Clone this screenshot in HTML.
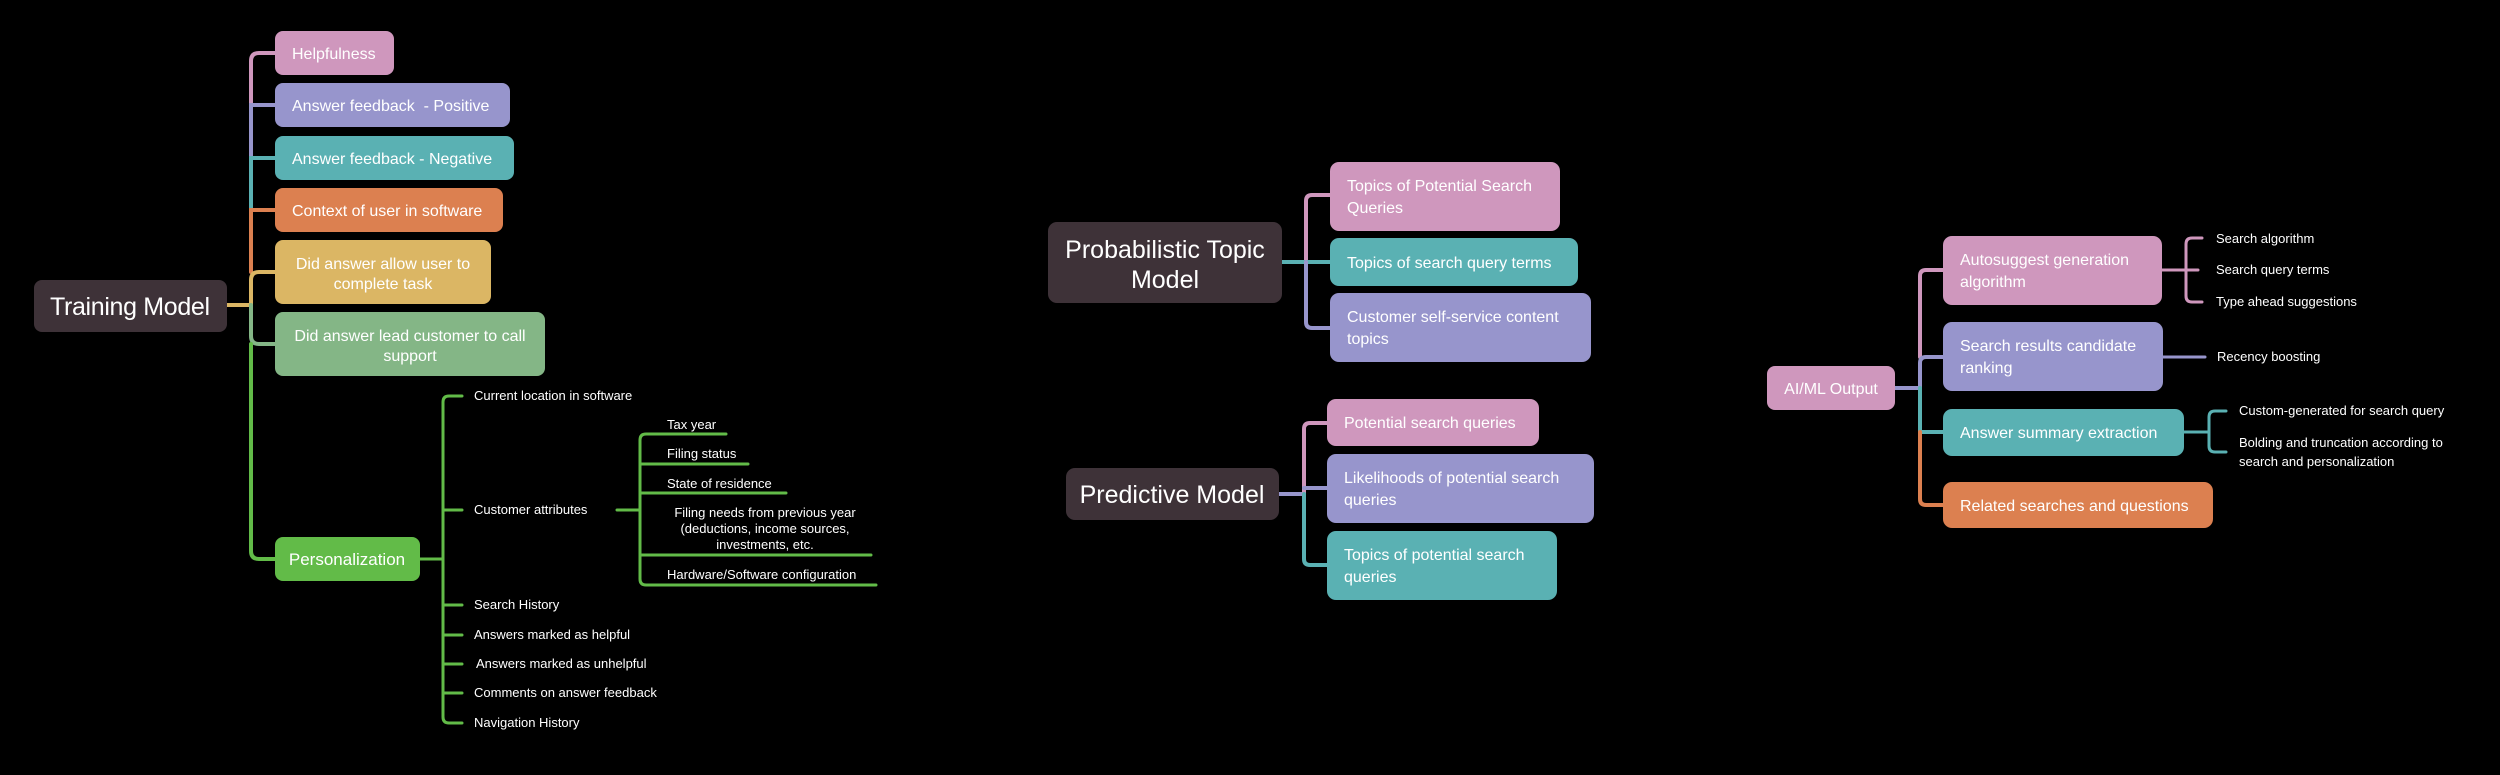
<!DOCTYPE html>
<html><head><meta charset="utf-8"><style>
html,body{margin:0;padding:0;background:#000;}
svg{display:block;}
text{font-family:"Liberation Sans",sans-serif;fill:#fff;}
</style></head><body>
<svg width="2500" height="775" viewBox="0 0 2500 775" xmlns="http://www.w3.org/2000/svg">
<rect width="2500" height="775" fill="#000"/>
<g fill="none" stroke-width="4" stroke-linecap="round">
<!-- Training model trunk -->
<path d="M227,305 H251" stroke="#dbb664"/>
<path d="M275,53 H259 Q251,53 251,61 V105" stroke="#cf97bd"/>
<path d="M275,105 H251 V158" stroke="#9795cc"/>
<path d="M275,158 H251 V210" stroke="#5ab1b3"/>
<path d="M275,210 H251 V272" stroke="#dc8050"/>
<path d="M275,272 H259 Q251,272 251,280 V305" stroke="#dbb664"/>
<path d="M275,344 H259 Q251,344 251,336 V305" stroke="#84b686"/>
<path d="M251,344 V551 Q251,559 259,559 H275" stroke="#62bb48"/>
</g>
<g fill="none" stroke="#62bb48" stroke-width="3" stroke-linecap="round">
<path d="M420,559 H443"/>
<path d="M462,396 H449 Q443,396 443,402 V717 Q443,723 449,723 H462"/>
<path d="M443,510 H462 M443,605 H462 M443,635 H462 M443,664 H462 M443,693 H462"/>
<path d="M617,510 H640"/>
<path d="M726,434 H646 Q640,434 640,440 V579 Q640,585 646,585 H876"/>
<path d="M640,464 H748 M640,493 H786 M640,555 H871"/>
</g>
<!-- Training Model boxes -->
<rect x="34" y="280" width="193" height="52" rx="8" fill="#3e3238"/>
<text x="130" y="315" font-size="25" text-anchor="middle" textLength="160">Training Model</text>
<rect x="275" y="31" width="119" height="44" rx="8" fill="#cf97bd"/>
<text x="292" y="59" font-size="16">Helpfulness</text>
<rect x="275" y="83" width="235" height="44" rx="8" fill="#9795cc"/>
<text x="292" y="111" font-size="16" xml:space="preserve">Answer feedback  - Positive</text>
<rect x="275" y="136" width="239" height="44" rx="8" fill="#5ab1b3"/>
<text x="292" y="164" font-size="16">Answer feedback - Negative</text>
<rect x="275" y="188" width="228" height="44" rx="8" fill="#dc8050"/>
<text x="292" y="216" font-size="16">Context of user in software</text>
<rect x="275" y="240" width="216" height="64" rx="8" fill="#dbb664"/>
<text x="383" y="269" font-size="16" text-anchor="middle">Did answer allow user to</text>
<text x="383" y="289" font-size="16" text-anchor="middle">complete task</text>
<rect x="275" y="312" width="270" height="64" rx="8" fill="#84b686"/>
<text x="410" y="341" font-size="16" text-anchor="middle">Did answer lead customer to call</text>
<text x="410" y="361" font-size="16" text-anchor="middle">support</text>
<rect x="275" y="537" width="145" height="44" rx="8" fill="#62bb48"/>
<text x="347" y="565" font-size="17" text-anchor="middle">Personalization</text>
<g font-size="13">
<text x="474" y="400">Current location in software</text>
<text x="474" y="514">Customer attributes</text>
<text x="474" y="609">Search History</text>
<text x="474" y="639">Answers marked as helpful</text>
<text x="476" y="668">Answers marked as unhelpful</text>
<text x="474" y="697">Comments on answer feedback</text>
<text x="474" y="727">Navigation History</text>
<text x="667" y="429">Tax year</text>
<text x="667" y="458">Filing status</text>
<text x="667" y="488">State of residence</text>
<text x="765" y="517" text-anchor="middle">Filing needs from previous year</text>
<text x="765" y="533" text-anchor="middle">(deductions, income sources,</text>
<text x="765" y="549" text-anchor="middle">investments, etc.</text>
<text x="667" y="579">Hardware/Software configuration</text>
</g>

<!-- Probabilistic Topic Model -->
<g fill="none" stroke-width="4" stroke-linecap="round">
<path d="M1330,195 H1312 Q1306,195 1306,201 V262" stroke="#cf97bd"/>
<path d="M1282,262 H1330" stroke="#5ab1b3"/>
<path d="M1306,262 V322 Q1306,328 1312,328 H1330" stroke="#9795cc"/>
<path d="M1279,494 H1304" stroke="#9795cc"/>
<path d="M1327,423 H1310 Q1304,423 1304,429 V494" stroke="#cf97bd"/>
<path d="M1304,488 H1327" stroke="#9795cc"/>
<path d="M1304,494 V559 Q1304,565 1310,565 H1327" stroke="#5ab1b3"/>
</g>
<rect x="1048" y="222" width="234" height="81" rx="9" fill="#3e3238"/>
<text x="1165" y="258" font-size="25" text-anchor="middle">Probabilistic Topic</text>
<text x="1165" y="288" font-size="25" text-anchor="middle">Model</text>
<rect x="1330" y="162" width="230" height="69" rx="9" fill="#cf97bd"/>
<text x="1347" y="191" font-size="16">Topics of Potential Search</text>
<text x="1347" y="213" font-size="16">Queries</text>
<rect x="1330" y="238" width="248" height="48" rx="9" fill="#5ab1b3"/>
<text x="1347" y="268" font-size="16">Topics of search query terms</text>
<rect x="1330" y="293" width="261" height="69" rx="9" fill="#9795cc"/>
<text x="1347" y="322" font-size="16">Customer self-service content</text>
<text x="1347" y="344" font-size="16">topics</text>

<rect x="1066" y="468" width="213" height="52" rx="9" fill="#3e3238"/>
<text x="1172" y="503" font-size="25" text-anchor="middle">Predictive Model</text>
<rect x="1327" y="399" width="212" height="47" rx="9" fill="#cf97bd"/>
<text x="1344" y="428" font-size="16">Potential search queries</text>
<rect x="1327" y="454" width="267" height="69" rx="9" fill="#9795cc"/>
<text x="1344" y="483" font-size="16">Likelihoods of potential search</text>
<text x="1344" y="505" font-size="16">queries</text>
<rect x="1327" y="531" width="230" height="69" rx="9" fill="#5ab1b3"/>
<text x="1344" y="560" font-size="16">Topics of potential search</text>
<text x="1344" y="582" font-size="16">queries</text>

<!-- AI/ML Output -->
<g fill="none" stroke-width="4" stroke-linecap="round">
<path d="M1895,388 H1920" stroke="#9795cc"/>
<path d="M1943,270 H1926 Q1920,270 1920,276 V357" stroke="#cf97bd"/>
<path d="M1943,357 H1926 Q1920,357 1920,363 V388" stroke="#9795cc"/>
<path d="M1920,388 V432 H1943" stroke="#5ab1b3"/>
<path d="M1920,432 V499 Q1920,505 1926,505 H1943" stroke="#dc8050"/>
</g>
<g fill="none" stroke-width="3" stroke-linecap="round">
<path d="M2162,270 H2198 M2202,238 H2192 Q2186,238 2186,244 V296 Q2186,302 2192,302 H2202" stroke="#cf97bd"/>
<path d="M2163,357 H2205" stroke="#9795cc"/>
<path d="M2184,432 H2209 M2226,411 H2215 Q2209,411 2209,417 V446 Q2209,452 2215,452 H2226" stroke="#5ab1b3"/>
</g>
<rect x="1767" y="366" width="128" height="44" rx="8" fill="#cf97bd"/>
<text x="1831" y="394" font-size="16" text-anchor="middle">AI/ML Output</text>
<rect x="1943" y="236" width="219" height="69" rx="9" fill="#cf97bd"/>
<text x="1960" y="265" font-size="16">Autosuggest generation</text>
<text x="1960" y="287" font-size="16">algorithm</text>
<rect x="1943" y="322" width="220" height="69" rx="9" fill="#9795cc"/>
<text x="1960" y="351" font-size="16">Search results candidate</text>
<text x="1960" y="373" font-size="16">ranking</text>
<rect x="1943" y="409" width="241" height="47" rx="9" fill="#5ab1b3"/>
<text x="1960" y="438" font-size="16">Answer summary extraction</text>
<rect x="1943" y="482" width="270" height="46" rx="9" fill="#dc8050"/>
<text x="1960" y="511" font-size="16">Related searches and questions</text>
<g font-size="13">
<text x="2216" y="243">Search algorithm</text>
<text x="2216" y="274">Search query terms</text>
<text x="2216" y="306">Type ahead suggestions</text>
<text x="2217" y="361">Recency boosting</text>
<text x="2239" y="415">Custom-generated for search query</text>
<text x="2239" y="447">Bolding and truncation according to</text>
<text x="2239" y="466">search and personalization</text>
</g>
</svg>
</body></html>
